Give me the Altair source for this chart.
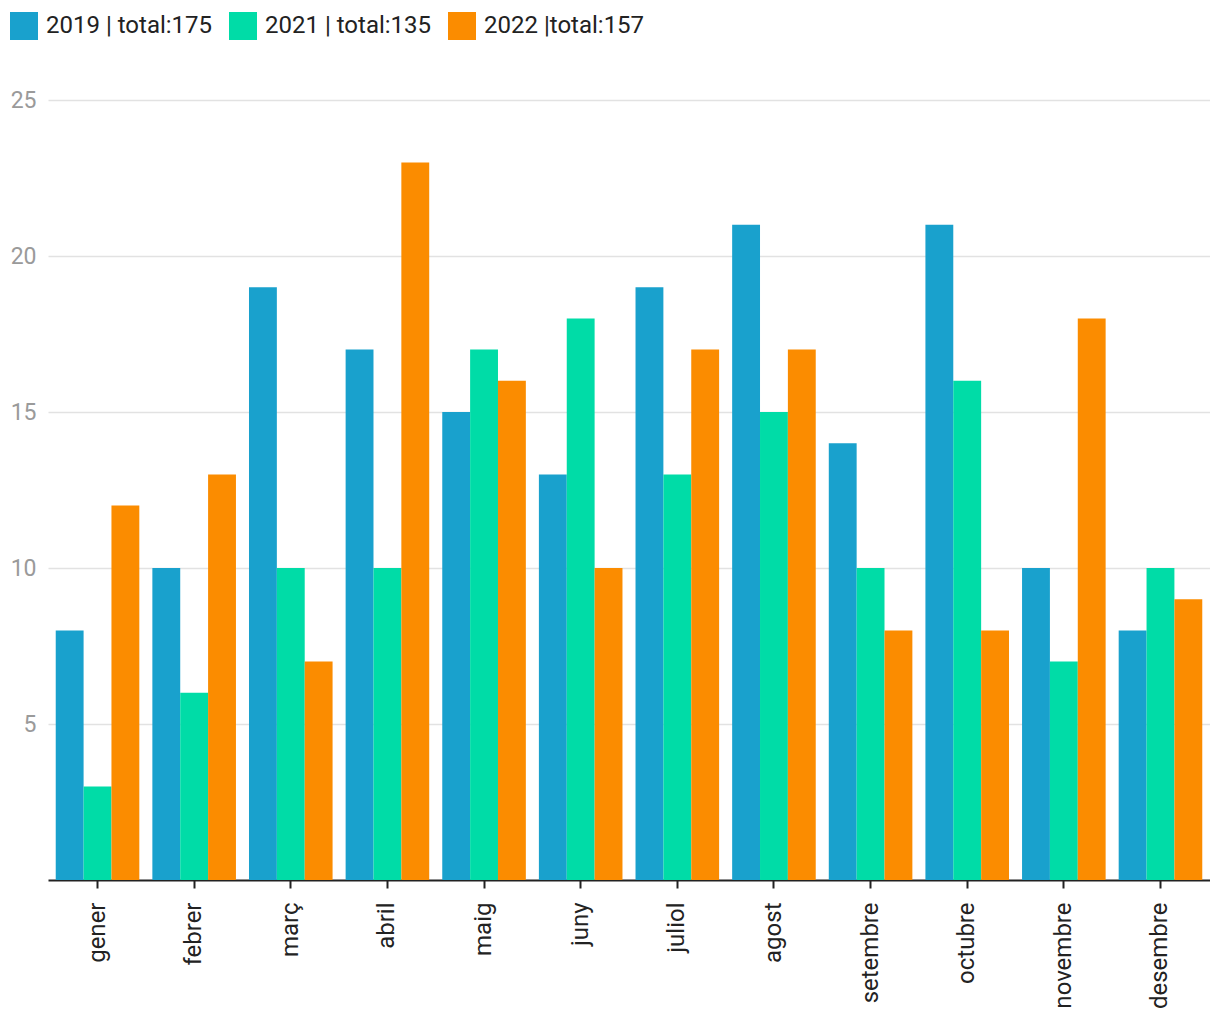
import altair as alt
import pandas as pd

months = ["gener", "febrer", "març", "abril", "maig", "juny", "juliol",
          "agost", "setembre", "octubre", "novembre", "desembre"]
series = ["2019 | total:175", "2021 | total:135", "2022 |total:157"]
v2019 = [8, 10, 19, 17, 15, 13, 19, 21, 14, 21, 10, 8]
v2021 = [3, 6, 10, 10, 17, 18, 13, 15, 10, 16, 7, 10]
v2022 = [12, 13, 7, 23, 16, 10, 17, 17, 8, 8, 18, 9]
colors = ["#19A1CD", "#00DCA7", "#FB8C00"]

rows = []
for s, vals in zip(series, [v2019, v2021, v2022]):
    for m, v in zip(months, vals):
        rows.append({"mes": m, "serie": s, "valor": v})
df = pd.DataFrame(rows)

chart = alt.Chart(df).mark_bar().encode(
    x=alt.X("mes:N", sort=months, title=None,
            scale=alt.Scale(paddingInner=0.135, paddingOuter=0.08),
            axis=alt.Axis(labelAngle=-90, labelAlign="right", labelBaseline="middle",
                          labelFontSize=24, labelColor="#222222", labelFont="Roboto",
                          labelPadding=14, domainColor="#222222", domainWidth=2,
                          tickColor="#222222", tickWidth=2, tickSize=8)),
    xOffset=alt.XOffset("serie:N", sort=series, scale=alt.Scale(paddingInner=0, paddingOuter=0)),
    y=alt.Y("valor:Q", title=None, scale=alt.Scale(domain=[0, 25], nice=False),
            axis=alt.Axis(values=[5, 10, 15, 20, 25], domain=False, ticks=False,
                          labelFontSize=23, labelColor="#9a9a9a", labelFont="Roboto",
                          labelPadding=12, gridColor="#e2e2e2", gridWidth=1.5)),
    color=alt.Color("serie:N", sort=series,
                    scale=alt.Scale(domain=series, range=colors),
                    legend=alt.Legend(title=None, orient="none", legendX=-38, legendY=-88,
                                      direction="horizontal", columns=3,
                                      symbolType="square", symbolSize=784,
                                      symbolStrokeWidth=0, symbolOpacity=1,
                                      labelFontSize=24, labelFont="Roboto",
                                      labelColor="#222222", labelOffset=8,
                                      columnPadding=16, labelLimit=400)),
).properties(
    width=1162, height=780,
    autosize=alt.AutoSizeParams(type="none"),
    padding={"left": 40, "top": 92, "right": 0, "bottom": 130},
).configure_view(stroke=None)

chart.save("out.html", embed_options={"renderer": "svg", "actions": False})
